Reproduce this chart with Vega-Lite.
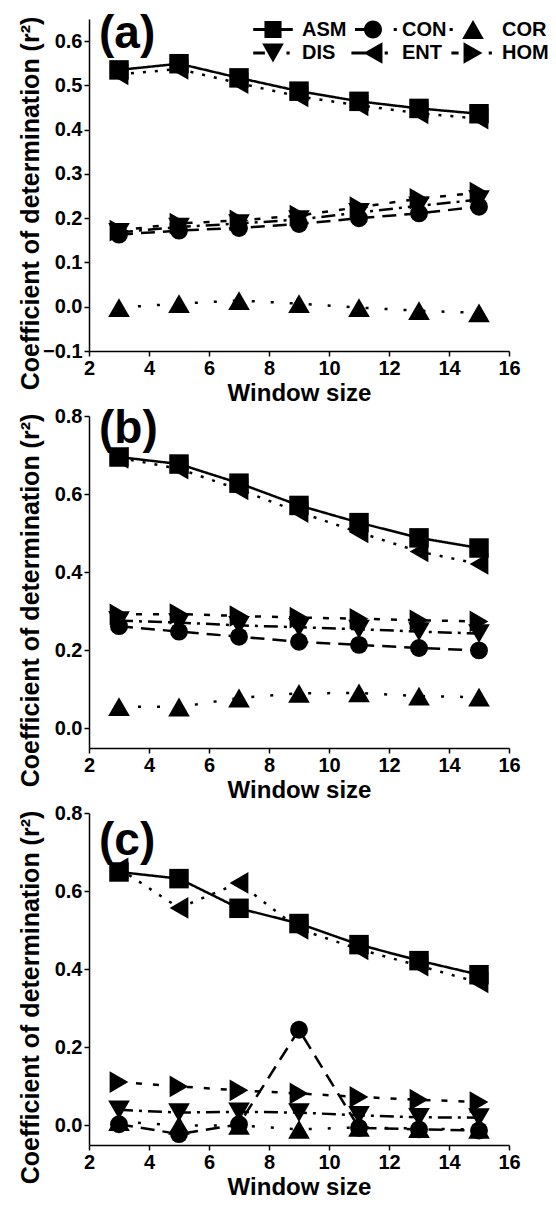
{
"$schema": "https://vega.github.io/schema/vega-lite/v6.json",
"autosize": {"type": "pad"},
"padding": {"left": 17, "top": 11, "right": 0, "bottom": 0},
"background": "white",
"config": {
  "view": {"stroke": null},
  "font": "Liberation Sans",
  "axis": {"grid": false, "domainColor": "black", "domainWidth": 1.5, "tickColor": "black", "tickWidth": 1.5, "tickSize": 5, "labelFont": "Liberation Sans", "labelFontSize": 20, "labelFontWeight": "bold", "labelColor": "black", "labelPadding": 2, "labelFlush": false, "labelOverlap": false, "titleFont": "Liberation Sans", "titleFontSize": 24, "titleFontWeight": "bold", "titleColor": "black"},
  "title": {"font": "Liberation Sans", "fontSize": 46, "fontWeight": "bold", "color": "black", "anchor": "start", "frame": "group", "offset": 0, "baseline": "alphabetic"}
},
"data": {"values": [
{"panel":"a","series":"ASM","window":3,"r2":0.535},{"panel":"a","series":"ASM","window":5,"r2":0.549},{"panel":"a","series":"ASM","window":7,"r2":0.517},{"panel":"a","series":"ASM","window":9,"r2":0.487},{"panel":"a","series":"ASM","window":11,"r2":0.464},{"panel":"a","series":"ASM","window":13,"r2":0.448},{"panel":"a","series":"ASM","window":15,"r2":0.436},
{"panel":"a","series":"ENT","window":3,"r2":0.525},{"panel":"a","series":"ENT","window":5,"r2":0.537},{"panel":"a","series":"ENT","window":7,"r2":0.505},{"panel":"a","series":"ENT","window":9,"r2":0.475},{"panel":"a","series":"ENT","window":11,"r2":0.455},{"panel":"a","series":"ENT","window":13,"r2":0.437},{"panel":"a","series":"ENT","window":15,"r2":0.425},
{"panel":"a","series":"CON","window":3,"r2":0.163},{"panel":"a","series":"CON","window":5,"r2":0.172},{"panel":"a","series":"CON","window":7,"r2":0.178},{"panel":"a","series":"CON","window":9,"r2":0.187},{"panel":"a","series":"CON","window":11,"r2":0.2},{"panel":"a","series":"CON","window":13,"r2":0.211},{"panel":"a","series":"CON","window":15,"r2":0.226},
{"panel":"a","series":"DIS","window":3,"r2":0.168},{"panel":"a","series":"DIS","window":5,"r2":0.18},{"panel":"a","series":"DIS","window":7,"r2":0.188},{"panel":"a","series":"DIS","window":9,"r2":0.197},{"panel":"a","series":"DIS","window":11,"r2":0.213},{"panel":"a","series":"DIS","window":13,"r2":0.228},{"panel":"a","series":"DIS","window":15,"r2":0.242},
{"panel":"a","series":"HOM","window":3,"r2":0.172},{"panel":"a","series":"HOM","window":5,"r2":0.188},{"panel":"a","series":"HOM","window":7,"r2":0.195},{"panel":"a","series":"HOM","window":9,"r2":0.206},{"panel":"a","series":"HOM","window":11,"r2":0.225},{"panel":"a","series":"HOM","window":13,"r2":0.244},{"panel":"a","series":"HOM","window":15,"r2":0.258},
{"panel":"a","series":"COR","window":3,"r2":-0.002},{"panel":"a","series":"COR","window":5,"r2":0.007},{"panel":"a","series":"COR","window":7,"r2":0.014},{"panel":"a","series":"COR","window":9,"r2":0.007},{"panel":"a","series":"COR","window":11,"r2":-0.002},{"panel":"a","series":"COR","window":13,"r2":-0.009},{"panel":"a","series":"COR","window":15,"r2":-0.014},
{"panel":"b","series":"ASM","window":3,"r2":0.695},{"panel":"b","series":"ASM","window":5,"r2":0.677},{"panel":"b","series":"ASM","window":7,"r2":0.628},{"panel":"b","series":"ASM","window":9,"r2":0.571},{"panel":"b","series":"ASM","window":11,"r2":0.527},{"panel":"b","series":"ASM","window":13,"r2":0.488},{"panel":"b","series":"ASM","window":15,"r2":0.462},
{"panel":"b","series":"ENT","window":3,"r2":0.693},{"panel":"b","series":"ENT","window":5,"r2":0.665},{"panel":"b","series":"ENT","window":7,"r2":0.612},{"panel":"b","series":"ENT","window":9,"r2":0.554},{"panel":"b","series":"ENT","window":11,"r2":0.502},{"panel":"b","series":"ENT","window":13,"r2":0.453},{"panel":"b","series":"ENT","window":15,"r2":0.421},
{"panel":"b","series":"HOM","window":3,"r2":0.292},{"panel":"b","series":"HOM","window":5,"r2":0.293},{"panel":"b","series":"HOM","window":7,"r2":0.288},{"panel":"b","series":"HOM","window":9,"r2":0.284},{"panel":"b","series":"HOM","window":11,"r2":0.281},{"panel":"b","series":"HOM","window":13,"r2":0.277},{"panel":"b","series":"HOM","window":15,"r2":0.274},
{"panel":"b","series":"DIS","window":3,"r2":0.276},{"panel":"b","series":"DIS","window":5,"r2":0.271},{"panel":"b","series":"DIS","window":7,"r2":0.264},{"panel":"b","series":"DIS","window":9,"r2":0.259},{"panel":"b","series":"DIS","window":11,"r2":0.254},{"panel":"b","series":"DIS","window":13,"r2":0.248},{"panel":"b","series":"DIS","window":15,"r2":0.243},
{"panel":"b","series":"CON","window":3,"r2":0.262},{"panel":"b","series":"CON","window":5,"r2":0.248},{"panel":"b","series":"CON","window":7,"r2":0.235},{"panel":"b","series":"CON","window":9,"r2":0.222},{"panel":"b","series":"CON","window":11,"r2":0.214},{"panel":"b","series":"CON","window":13,"r2":0.206},{"panel":"b","series":"CON","window":15,"r2":0.2},
{"panel":"b","series":"COR","window":3,"r2":0.056},{"panel":"b","series":"COR","window":5,"r2":0.055},{"panel":"b","series":"COR","window":7,"r2":0.078},{"panel":"b","series":"COR","window":9,"r2":0.09},{"panel":"b","series":"COR","window":11,"r2":0.091},{"panel":"b","series":"COR","window":13,"r2":0.083},{"panel":"b","series":"COR","window":15,"r2":0.08},
{"panel":"c","series":"ASM","window":3,"r2":0.649},{"panel":"c","series":"ASM","window":5,"r2":0.632},{"panel":"c","series":"ASM","window":7,"r2":0.556},{"panel":"c","series":"ASM","window":9,"r2":0.517},{"panel":"c","series":"ASM","window":11,"r2":0.463},{"panel":"c","series":"ASM","window":13,"r2":0.422},{"panel":"c","series":"ASM","window":15,"r2":0.386},
{"panel":"c","series":"ENT","window":3,"r2":0.658},{"panel":"c","series":"ENT","window":5,"r2":0.557},{"panel":"c","series":"ENT","window":7,"r2":0.621},{"panel":"c","series":"ENT","window":9,"r2":0.503},{"panel":"c","series":"ENT","window":11,"r2":0.451},{"panel":"c","series":"ENT","window":13,"r2":0.409},{"panel":"c","series":"ENT","window":15,"r2":0.366},
{"panel":"c","series":"HOM","window":3,"r2":0.111},{"panel":"c","series":"HOM","window":5,"r2":0.1},{"panel":"c","series":"HOM","window":7,"r2":0.09},{"panel":"c","series":"HOM","window":9,"r2":0.082},{"panel":"c","series":"HOM","window":11,"r2":0.073},{"panel":"c","series":"HOM","window":13,"r2":0.066},{"panel":"c","series":"HOM","window":15,"r2":0.06},
{"panel":"c","series":"DIS","window":3,"r2":0.04},{"panel":"c","series":"DIS","window":5,"r2":0.033},{"panel":"c","series":"DIS","window":7,"r2":0.035},{"panel":"c","series":"DIS","window":9,"r2":0.033},{"panel":"c","series":"DIS","window":11,"r2":0.026},{"panel":"c","series":"DIS","window":13,"r2":0.021},{"panel":"c","series":"DIS","window":15,"r2":0.02},
{"panel":"c","series":"CON","window":3,"r2":0.003},{"panel":"c","series":"CON","window":5,"r2":-0.022},{"panel":"c","series":"CON","window":7,"r2":0.003},{"panel":"c","series":"CON","window":9,"r2":0.245},{"panel":"c","series":"CON","window":11,"r2":-0.006},{"panel":"c","series":"CON","window":13,"r2":-0.01},{"panel":"c","series":"CON","window":15,"r2":-0.013},
{"panel":"c","series":"COR","window":3,"r2":0.01},{"panel":"c","series":"COR","window":5,"r2":0.0},{"panel":"c","series":"COR","window":7,"r2":0.0},{"panel":"c","series":"COR","window":9,"r2":-0.01},{"panel":"c","series":"COR","window":11,"r2":-0.005},{"panel":"c","series":"COR","window":13,"r2":-0.008},{"panel":"c","series":"COR","window":15,"r2":-0.01}
]},
"spacing": 65,
"bounds": "flush",
"vconcat": [
{
  "width": 420, "height": 332,
  "title": {"text": "(a)", "dx": 10, "dy": 46},
  "transform": [{"filter": "datum.panel == 'a'"}],
  "encoding": {
    "x": {"field": "window", "type": "quantitative", "scale": {"domain": [2, 16], "nice": false, "zero": false}, "axis": {"values": [2,4,6,8,10,12,14,16], "format": "d", "title": "Window size", "titlePadding": 3}},
    "y": {"field": "r2", "type": "quantitative", "scale": {"domain": [-0.1, 0.65], "nice": false, "zero": false}, "axis": {"values": [-0.1,0,0.1,0.2,0.3,0.4,0.5,0.6], "format": ".1f", "title": "Coefficient of determination (r²)", "titleFontSize": 25, "titleX": -51, "titleY": 184, "titleBaseline": "alphabetic"}}
  },
  "layer": [
    {"mark": {"type": "line", "color": "black", "strokeWidth": 2.5}, "encoding": {"detail": {"field": "series"}, "strokeDash": {"field": "series", "type": "nominal", "scale": {"domain": ["ASM","CON","COR","DIS","ENT","HOM"], "range": [[1,0],[14,8],[3,16],[14,6,3,6],[3,9],[6,11]]}, "legend": null}}},
    {"transform": [{"filter": "datum.series == 'ASM'"}], "mark": {"type": "point", "shape": "square", "size": 380, "filled": true, "opacity": 1, "color": "black"}},
    {"transform": [{"filter": "datum.series == 'CON'"}], "mark": {"type": "point", "shape": "circle", "size": 320, "filled": true, "opacity": 1, "color": "black"}},
    {"transform": [{"filter": "indexof(['COR','DIS','ENT','HOM'], datum.series) >= 0"}], "mark": {"type": "point", "size": 470, "filled": true, "opacity": 1, "color": "black"}, "encoding": {"shape": {"field": "series", "type": "nominal", "scale": {"domain": ["COR","DIS","ENT","HOM"], "range": ["triangle-up","triangle-down","triangle-left","triangle-right"]}, "legend": null}}},
    {"transform": [{"filter": "datum.series == 'none'"}], "mark": {"type": "point", "size": 324, "filled": true, "opacity": 1, "color": "black"}, "encoding": {"shape": {"field": "series", "type": "nominal", "scale": {"domain": ["ASM","CON","COR","DIS","ENT","HOM"], "range": [
      "M-2.2,-0.17H2.2V0.17H-2.2Z M-0.95,-0.95H0.95V0.95H-0.95Z",
      "M-2.0,-0.17H-0.9V0.17H-2.0Z M-1,0A1,1 0 1,1 1,0A1,1 0 1,1 -1,0Z M2.3,-0.17H2.65V0.17H2.3Z",
      "M-2.6,-0.17H-2.25V0.17H-2.6Z M0,-1.05L1.2,1.05L-1.2,1.05Z",
      "M-2.2,-0.17H-0.9V0.17H-2.2Z M-1.2,-1.05L1.2,-1.05L0,1.05Z M1.5,-0.17H1.85V0.17H1.5Z",
      "M-2.4,-0.17H-0.8V0.17H-2.4Z M-1.05,0L1.05,-1.2L1.05,1.2Z M1.3,-0.17H1.65V0.17H1.3Z",
      "M-2.4,-0.17H-1.6V0.17H-2.4Z M1.05,0L-1.05,-1.2L-1.05,1.2Z M1.75,-0.17H2.1V0.17H1.75Z"
    ]}, "legend": {"orient": "none", "legendX": 174, "legendY": 0, "columns": 3, "direction": "horizontal", "gridAlign": "all", "title": null, "labelFont": "Liberation Sans", "labelFontSize": 20, "labelFontWeight": "bold", "labelColor": "black", "labelOffset": 19, "columnPadding": 0, "rowPadding": 2, "symbolSize": 324, "symbolFillColor": "black", "symbolStrokeWidth": 0, "symbolOpacity": 1}}}}
  ],
  "resolve": {"scale": {"shape": "independent"}}
},
{
  "width": 420, "height": 332,
  "title": {"text": "(b)", "dx": 10, "dy": 51},
  "transform": [{"filter": "datum.panel == 'b'"}],
  "encoding": {
    "x": {"field": "window", "type": "quantitative", "scale": {"domain": [2, 16], "nice": false, "zero": false}, "axis": {"values": [2,4,6,8,10,12,14,16], "format": "d", "title": "Window size", "titlePadding": 3}},
    "y": {"field": "r2", "type": "quantitative", "scale": {"domain": [-0.05, 0.8], "nice": false, "zero": false}, "axis": {"values": [0,0.2,0.4,0.6,0.8], "format": ".1f", "title": "Coefficient of determination (r²)", "titleFontSize": 25, "titleX": -51, "titleY": 184, "titleBaseline": "alphabetic"}}
  },
  "layer": [
    {"mark": {"type": "line", "color": "black", "strokeWidth": 2.5}, "encoding": {"detail": {"field": "series"}, "strokeDash": {"field": "series", "type": "nominal", "scale": {"domain": ["ASM","CON","COR","DIS","ENT","HOM"], "range": [[1,0],[14,8],[3,16],[14,6,3,6],[3,9],[6,11]]}, "legend": null}}},
    {"transform": [{"filter": "datum.series == 'ASM'"}], "mark": {"type": "point", "shape": "square", "size": 380, "filled": true, "opacity": 1, "color": "black"}},
    {"transform": [{"filter": "datum.series == 'CON'"}], "mark": {"type": "point", "shape": "circle", "size": 320, "filled": true, "opacity": 1, "color": "black"}},
    {"transform": [{"filter": "indexof(['COR','DIS','ENT','HOM'], datum.series) >= 0"}], "mark": {"type": "point", "size": 470, "filled": true, "opacity": 1, "color": "black"}, "encoding": {"shape": {"field": "series", "type": "nominal", "scale": {"domain": ["COR","DIS","ENT","HOM"], "range": ["triangle-up","triangle-down","triangle-left","triangle-right"]}, "legend": null}}}
  ]
},
{
  "width": 420, "height": 332,
  "title": {"text": "(c)", "dx": 10, "dy": 66},
  "transform": [{"filter": "datum.panel == 'c'"}],
  "encoding": {
    "x": {"field": "window", "type": "quantitative", "scale": {"domain": [2, 16], "nice": false, "zero": false}, "axis": {"values": [2,4,6,8,10,12,14,16], "format": "d", "title": "Window size", "titlePadding": 3}},
    "y": {"field": "r2", "type": "quantitative", "scale": {"domain": [-0.05, 0.8], "nice": false, "zero": false}, "axis": {"values": [0,0.2,0.4,0.6,0.8], "format": ".1f", "title": "Coefficient of determination (r²)", "titleFontSize": 25, "titleX": -51, "titleY": 184, "titleBaseline": "alphabetic"}}
  },
  "layer": [
    {"mark": {"type": "line", "color": "black", "strokeWidth": 2.5}, "encoding": {"detail": {"field": "series"}, "strokeDash": {"field": "series", "type": "nominal", "scale": {"domain": ["ASM","CON","COR","DIS","ENT","HOM"], "range": [[1,0],[14,8],[3,16],[14,6,3,6],[3,9],[6,11]]}, "legend": null}}},
    {"transform": [{"filter": "datum.series == 'ASM'"}], "mark": {"type": "point", "shape": "square", "size": 380, "filled": true, "opacity": 1, "color": "black"}},
    {"transform": [{"filter": "datum.series == 'CON'"}], "mark": {"type": "point", "shape": "circle", "size": 320, "filled": true, "opacity": 1, "color": "black"}},
    {"transform": [{"filter": "indexof(['COR','DIS','ENT','HOM'], datum.series) >= 0"}], "mark": {"type": "point", "size": 470, "filled": true, "opacity": 1, "color": "black"}, "encoding": {"shape": {"field": "series", "type": "nominal", "scale": {"domain": ["COR","DIS","ENT","HOM"], "range": ["triangle-up","triangle-down","triangle-left","triangle-right"]}, "legend": null}}}
  ]
}
]
}
